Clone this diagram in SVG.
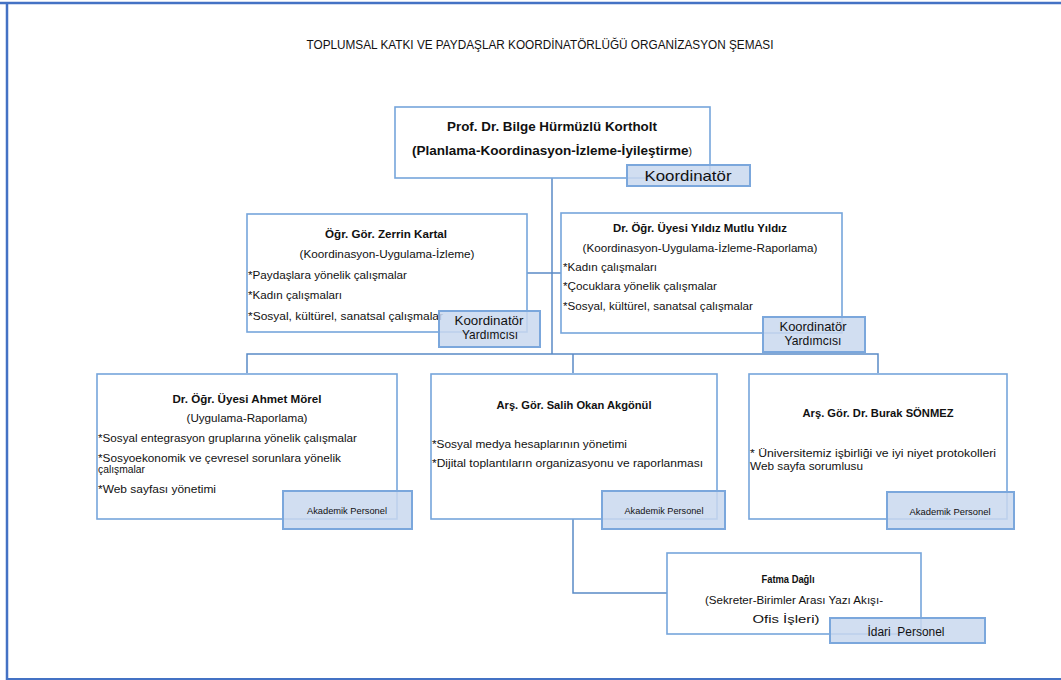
<svg xmlns="http://www.w3.org/2000/svg" width="1061" height="680" viewBox="0 0 1061 680">
<style>
text{font-family:"Liberation Sans",Arial,sans-serif;fill:#111;}
.t{font-size:11.5px;}
.b{font-size:11.5px;font-weight:bold;}
.tb{font-size:13px;font-weight:bold;}
.box{fill:#fff;stroke:#76A5DB;stroke-width:1.6;}
.lab{fill:#C9D8EE;fill-opacity:0.85;stroke:#7BA7DC;stroke-width:2;}
.ls{font-size:13px;}
.ak{font-size:9px;}
.conn{fill:none;stroke:#5A8AC6;stroke-width:1.5;}
.frame{stroke:#4472C4;fill:none;}
</style>
<rect width="1061" height="680" fill="#fff"/>
<g id="frame">
<line class="frame" x1="0" y1="3" x2="1061" y2="3" stroke-width="2.5"/>
<line class="frame" x1="7" y1="3" x2="7" y2="680" stroke-width="2.5"/>
<line class="frame" x1="7" y1="679" x2="1061" y2="679" stroke-width="2" stroke="#6E94D0"/>
</g>
<text id="title" x="540" y="49" text-anchor="middle" font-size="12" textLength="467" lengthAdjust="spacingAndGlyphs">TOPLUMSAL KATKI VE PAYDAŞLAR KOORDİNATÖRLÜĞÜ ORGANİZASYON ŞEMASI</text>
<g id="connectors">
<polyline class="conn" points="552,178 552,354"/>
<polyline class="conn" points="527,273 561,273"/>
<polyline class="conn" points="247,373 247,354 878,354 878,373"/>
<polyline class="conn" points="573,354 573,373"/>
<polyline class="conn" points="573,519 573,593 667,593"/>
</g>
<g id="node-koordinator">
<rect class="box" x="395" y="107" width="315" height="71"/>
<text class="tb" x="552" y="131" text-anchor="middle" textLength="210" lengthAdjust="spacingAndGlyphs">Prof. Dr. Bilge Hürmüzlü Kortholt</text>
<text class="tb" x="412" y="155" textLength="280" lengthAdjust="spacingAndGlyphs">(Planlama-Koordinasyon-İzleme-İyileştirme<tspan font-weight="normal" font-size="10">)</tspan></text>
<rect class="lab" x="627" y="165" width="123" height="21"/>
<text x="688" y="181" text-anchor="middle" font-size="15" textLength="87" lengthAdjust="spacingAndGlyphs">Koordinatör</text>
</g>
<g id="node-zerrin">
<rect class="box" x="247" y="214" width="280" height="118"/>
<text class="b" x="386" y="238" text-anchor="middle" textLength="122" lengthAdjust="spacingAndGlyphs">Öğr. Gör. Zerrin Kartal</text>
<text class="t" x="387" y="258" text-anchor="middle" textLength="175" lengthAdjust="spacingAndGlyphs">(Koordinasyon-Uygulama-İzleme)</text>
<text class="t" x="248" y="279" textLength="159" lengthAdjust="spacingAndGlyphs">*Paydaşlara yönelik çalışmalar</text>
<text class="t" x="248" y="299" textLength="94" lengthAdjust="spacingAndGlyphs">*Kadın çalışmaları</text>
<text class="t" x="248" y="320" textLength="195" lengthAdjust="spacingAndGlyphs">*Sosyal, kültürel, sanatsal çalışmalar</text>
<rect class="lab" x="439" y="311" width="101" height="36"/>
<text class="ls" x="489" y="325" text-anchor="middle" textLength="69" lengthAdjust="spacingAndGlyphs">Koordinatör</text>
<text class="ls" x="490" y="339" text-anchor="middle" textLength="56" lengthAdjust="spacingAndGlyphs">Yardımcısı</text>
</g>
<g id="node-yildiz">
<rect class="box" x="561" y="213" width="281" height="120"/>
<text class="b" x="700" y="232" text-anchor="middle" textLength="174" lengthAdjust="spacingAndGlyphs">Dr. Öğr. Üyesi Yıldız Mutlu Yıldız</text>
<text class="t" x="700" y="252" text-anchor="middle" textLength="235" lengthAdjust="spacingAndGlyphs">(Koordinasyon-Uygulama-İzleme-Raporlama)</text>
<text class="t" x="563" y="271" textLength="94" lengthAdjust="spacingAndGlyphs">*Kadın çalışmaları</text>
<text class="t" x="563" y="290" textLength="154" lengthAdjust="spacingAndGlyphs">*Çocuklara yönelik çalışmalar</text>
<text class="t" x="563" y="310" textLength="190" lengthAdjust="spacingAndGlyphs">*Sosyal, kültürel, sanatsal çalışmalar</text>
<rect class="lab" x="763" y="317" width="102" height="35"/>
<text class="ls" x="813" y="331" text-anchor="middle" textLength="67" lengthAdjust="spacingAndGlyphs">Koordinatör</text>
<text class="ls" x="813" y="345" text-anchor="middle" textLength="57" lengthAdjust="spacingAndGlyphs">Yardımcısı</text>
</g>
<g id="node-ahmet">
<rect class="box" x="97" y="374" width="300" height="145"/>
<text class="b" x="247" y="403" text-anchor="middle" textLength="149" lengthAdjust="spacingAndGlyphs">Dr. Öğr. Üyesi Ahmet Mörel</text>
<text class="t" x="247" y="422" text-anchor="middle" textLength="121" lengthAdjust="spacingAndGlyphs">(Uygulama-Raporlama)</text>
<text class="t" x="98" y="442" textLength="259" lengthAdjust="spacingAndGlyphs">*Sosyal entegrasyon gruplarına yönelik çalışmalar</text>
<text class="t" x="98" y="462" textLength="243" lengthAdjust="spacingAndGlyphs">*Sosyoekonomik ve çevresel sorunlara yönelik</text>
<text class="t" x="98" y="473" textLength="47" lengthAdjust="spacingAndGlyphs">çalışmalar</text>
<text class="t" x="98" y="493" textLength="118" lengthAdjust="spacingAndGlyphs">*Web sayfası yönetimi</text>
<rect class="lab" x="283" y="491" width="129" height="38"/>
<text class="ak" x="347" y="514" text-anchor="middle" textLength="80" lengthAdjust="spacingAndGlyphs">Akademik Personel</text>
</g>
<g id="node-salih">
<rect class="box" x="431" y="374" width="286" height="145"/>
<text class="b" x="574" y="409" text-anchor="middle" textLength="155" lengthAdjust="spacingAndGlyphs">Arş. Gör. Salih Okan Akgönül</text>
<text class="t" x="432" y="448" textLength="195" lengthAdjust="spacingAndGlyphs">*Sosyal medya hesaplarının yönetimi</text>
<text class="t" x="432" y="467" textLength="271" lengthAdjust="spacingAndGlyphs">*Dijital toplantıların organizasyonu ve raporlanması</text>
<rect class="lab" x="602" y="491" width="123" height="38"/>
<text class="ak" x="664" y="514" text-anchor="middle" textLength="79" lengthAdjust="spacingAndGlyphs">Akademik Personel</text>
</g>
<g id="node-burak">
<rect class="box" x="749" y="374" width="258" height="145"/>
<text class="b" x="878" y="417" text-anchor="middle" textLength="151" lengthAdjust="spacingAndGlyphs">Arş. Gör. Dr. Burak SÖNMEZ</text>
<text class="t" x="750" y="457" font-size="12" textLength="246" lengthAdjust="spacingAndGlyphs">* Üniversitemiz işbirliği ve iyi niyet protokolleri</text>
<text class="t" x="750" y="470" font-size="12" textLength="113" lengthAdjust="spacingAndGlyphs">Web sayfa sorumlusu</text>
<rect class="lab" x="887" y="492" width="127" height="37"/>
<text class="ak" x="950" y="515" text-anchor="middle" textLength="81" lengthAdjust="spacingAndGlyphs">Akademik Personel</text>
</g>
<g id="node-fatma">
<rect class="box" x="667" y="553" width="254" height="81"/>
<text class="b" x="788" y="583" text-anchor="middle" textLength="53" lengthAdjust="spacingAndGlyphs">Fatma Dağlı</text>
<text class="t" x="794" y="604" text-anchor="middle" textLength="178" lengthAdjust="spacingAndGlyphs">(Sekreter-Birimler Arası Yazı Akışı-</text>
<text class="t" x="786" y="623" text-anchor="middle" textLength="67" lengthAdjust="spacingAndGlyphs">Ofis İşleri)</text>
<rect class="lab" x="830" y="618" width="155" height="25"/>
<text x="906" y="636" text-anchor="middle" font-size="12" textLength="77" lengthAdjust="spacingAndGlyphs" xml:space="preserve">İdari  Personel</text>
</g>
</svg>
